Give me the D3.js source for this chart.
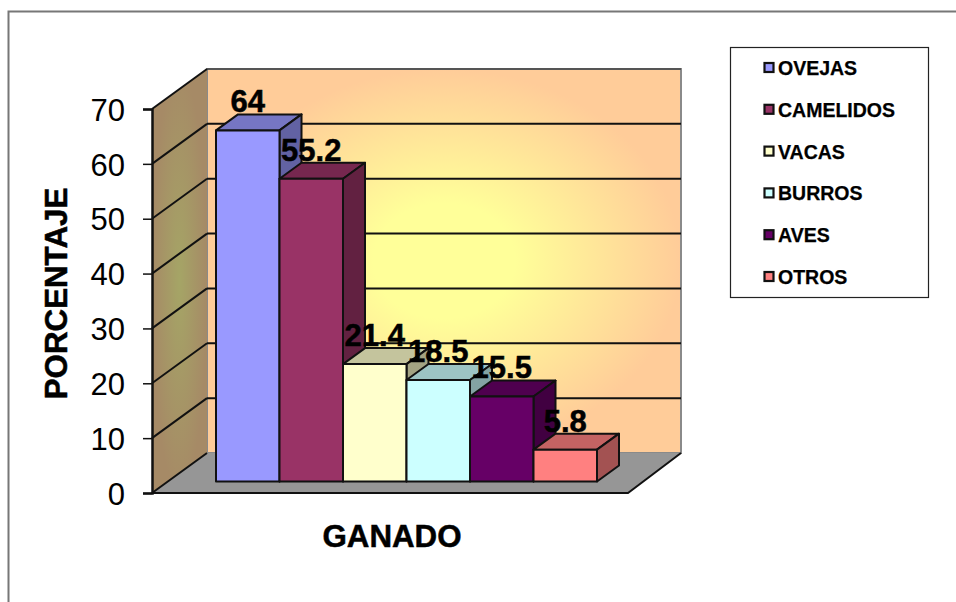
<!DOCTYPE html>
<html>
<head>
<meta charset="utf-8">
<script src="https://cdn.jsdelivr.net/npm/d3@7"></script>
<style>
  html, body { margin: 0; padding: 0; background: #fff; }
  text { font-family: "Liberation Sans", Arial, sans-serif; fill: #000; }
  .heavy { font-weight: bold; stroke: #000; stroke-width: 0.5px; }
</style>
</head>
<body>
<div id="chart"></div>
<script>
// Data
var categories = ["OVEJAS", "CAMELIDOS", "VACAS", "BURROS", "AVES", "OTROS"];
var values = [64, 55.2, 21.4, 18.5, 15.5, 5.8];
var labels = ["64", "55.2", "21.4", "18.5", "15.5", "5.8"];
var colors = ["#9999ff", "#993366", "#ffffcc", "#ccffff", "#660066", "#ff8080"];
var yTicks = [0, 10, 20, 30, 40, 50, 60, 70];

var width = 956, height = 602;

var svg = d3.select("#chart").append("svg")
  .attr("width", width)
  .attr("height", height)
  .style("display", "block");

// Outer frame, open at right and bottom
svg.append("path")
  .attr("d", "M8.5,602V11.5H956")
  .attr("fill", "none")
  .attr("stroke", "#777")
  .attr("stroke-width", 2);

// Scales
var y = d3.scaleLinear().domain([0, 70]).range([493, 109]);
var x = d3.scaleBand().domain(categories).range([216, 597]);

// 3D offsets
var wallDx = 55, wallDy = -40;    // front of the floor to back wall
var baseDy = -11.5;               // bars stand a little behind the front edge
var barDx = 22, barDy = -16;      // bar depth
var leftX = 152, floorRight = 628;

function darken(c, k) {
  var r = d3.rgb(c);
  return d3.rgb(r.r * k, r.g * k, r.b * k).formatHex();
}
function pts(a) { return a.map(function(p) { return p.join(","); }).join(" "); }

// Gradients
var defs = svg.append("defs");
var backGrad = defs.append("radialGradient").attr("id", "backGrad")
  .attr("cx", 0.5).attr("cy", 0.5).attr("r", 0.5);
backGrad.append("stop").attr("offset", "0%").attr("stop-color", "#ffff99");
backGrad.append("stop").attr("offset", "30%").attr("stop-color", "#ffff99");
backGrad.append("stop").attr("offset", "100%").attr("stop-color", "#ffcc99");

var sideGrad = defs.append("radialGradient").attr("id", "sideGrad")
  .attr("cx", 0.5).attr("cy", 0.5).attr("r", 0.5);
sideGrad.append("stop").attr("offset", "0%").attr("stop-color", "#a5a566");
sideGrad.append("stop").attr("offset", "100%").attr("stop-color", "#a68a66");

// Back wall
svg.append("rect")
  .attr("x", leftX + wallDx)
  .attr("y", y(70) + wallDy)
  .attr("width", floorRight + 53 - leftX - wallDx)
  .attr("height", y(0) - y(70))
  .attr("fill", "url(#backGrad)")
  .attr("stroke", "#8a8a8a")
  .attr("stroke-width", 2);

// Left wall
svg.append("polygon")
  .attr("points", pts([[leftX, y(0)], [leftX, y(70)], [leftX + wallDx, y(70) + wallDy], [leftX + wallDx, y(0) + wallDy]]))
  .attr("fill", "url(#sideGrad)");

// Floor
svg.append("polygon")
  .attr("points", pts([[leftX, y(0)], [floorRight, y(0)], [floorRight + 53, y(0) + wallDy], [leftX + wallDx, y(0) + wallDy]]))
  .attr("fill", "#969696")
  .attr("stroke", "none");
svg.append("path")
  .attr("d", "M" + leftX + "," + y(0) + "H" + floorRight + "L" + (floorRight + 53) + "," + (y(0) + wallDy))
  .attr("fill", "none")
  .attr("stroke", "#111")
  .attr("stroke-width", 2);

// Gridlines on both walls
svg.selectAll(".gridback")
  .data(yTicks.filter(function(d) { return d > 0; }))
  .enter().append("line")
    .attr("x1", leftX + wallDx)
    .attr("x2", floorRight + 53)
    .attr("y1", function(d) { return y(d) + wallDy; })
    .attr("y2", function(d) { return y(d) + wallDy; })
    .attr("stroke", d => d === 70 ? "#555" : "#111")
    .attr("stroke-width", 2);
svg.selectAll(".gridside")
  .data(yTicks)
  .enter().append("line")
    .attr("x1", leftX)
    .attr("x2", leftX + wallDx)
    .attr("y1", function(d) { return y(d); })
    .attr("y2", function(d) { return y(d) + wallDy; })
    .attr("stroke", "#111")
    .attr("stroke-width", 2);

// Y axis
var yAxis = svg.append("g")
  .attr("transform", "translate(" + leftX + ",0)")
  .call(d3.axisLeft(y).tickValues(yTicks).tickSize(9).tickPadding(18));
yAxis.selectAll("path.domain").attr("stroke", "#111").attr("stroke-width", 2.5);
yAxis.selectAll("line").attr("stroke", "#111").attr("stroke-width", 1.5);
yAxis.selectAll("text")
  .style("font-family", "'Liberation Sans', Arial, sans-serif")
  .style("font-size", "31px")
  .attr("dy", "0.36em")
  .attr("fill", "#000");

// Bars, left to right so each one covers the side of the previous one
var bars = svg.selectAll(".bar")
  .data(categories)
  .enter().append("g")
    .attr("class", "bar");

function barBase() { return y(0) + baseDy; }
function barTop(i) { return y(values[i]) + baseDy; }

bars.append("polygon") // top face
  .attr("points", function(d, i) {
    var l = x(d), r = l + x.bandwidth(), t = barTop(i);
    return pts([[l, t], [r, t], [r + barDx, t + barDy], [l + barDx, t + barDy]]);
  })
  .attr("fill", function(d, i) { return darken(colors[i], 0.77); });
bars.append("polygon") // side face
  .attr("points", function(d, i) {
    var r = x(d) + x.bandwidth(), t = barTop(i), b = barBase();
    return pts([[r, t], [r + barDx, t + barDy], [r + barDx, b + barDy], [r, b]]);
  })
  .attr("fill", function(d, i) { return darken(colors[i], 0.64); });
bars.append("rect") // front face
  .attr("x", function(d) { return x(d); })
  .attr("y", function(d, i) { return barTop(i); })
  .attr("width", x.bandwidth())
  .attr("height", function(d, i) { return barBase() - barTop(i); })
  .attr("fill", function(d, i) { return colors[i]; });
bars.selectAll("polygon, rect")
  .attr("stroke", "#111")
  .attr("stroke-width", 2)
  .attr("stroke-linejoin", "round");

// Value labels go on top of every bar
svg.selectAll(".value")
  .data(categories)
  .enter().append("text")
    .attr("class", "value heavy")
    .attr("x", function(d) { return x(d) + x.bandwidth() / 2; })
    .attr("y", function(d, i) { return barTop(i) - 18; })
    .attr("text-anchor", "middle")
    .style("font-size", "31px")
    .text(function(d, i) { return labels[i]; });

// Axis titles
svg.append("text")
  .attr("class", "heavy")
  .attr("transform", "translate(67,293.5) rotate(-90)")
  .attr("text-anchor", "middle")
  .style("font-size", "31.3px")
  .text("PORCENTAJE");
svg.append("text")
  .attr("class", "heavy")
  .attr("x", 392)
  .attr("y", 547)
  .attr("text-anchor", "middle")
  .style("font-size", "31.3px")
  .text("GANADO");

// Legend
var legendY = d3.scalePoint().domain(categories).range([68, 277]);
svg.append("rect")
  .attr("x", 730.5).attr("y", 47.5)
  .attr("width", 198).attr("height", 250)
  .attr("fill", "#fff")
  .attr("stroke", "#222")
  .attr("stroke-width", 1.2);
var legend = svg.selectAll(".legend")
  .data(categories)
  .enter().append("g")
    .attr("class", "legend")
    .attr("transform", function(d) { return "translate(0," + legendY(d) + ")"; });
legend.append("rect")
  .attr("x", 764.5).attr("y", -5)
  .attr("width", 9).attr("height", 9)
  .attr("fill", function(d, i) { return colors[i]; })
  .attr("stroke", "#111")
  .attr("stroke-width", 2.2);
legend.append("text")
  .attr("class", "heavy")
  .attr("x", 778)
  .attr("y", 7)
  .style("font-size", "19.5px")
  .style("stroke-width", "0.25px")
  .text(function(d) { return d; });
</script>
</body>
</html>
